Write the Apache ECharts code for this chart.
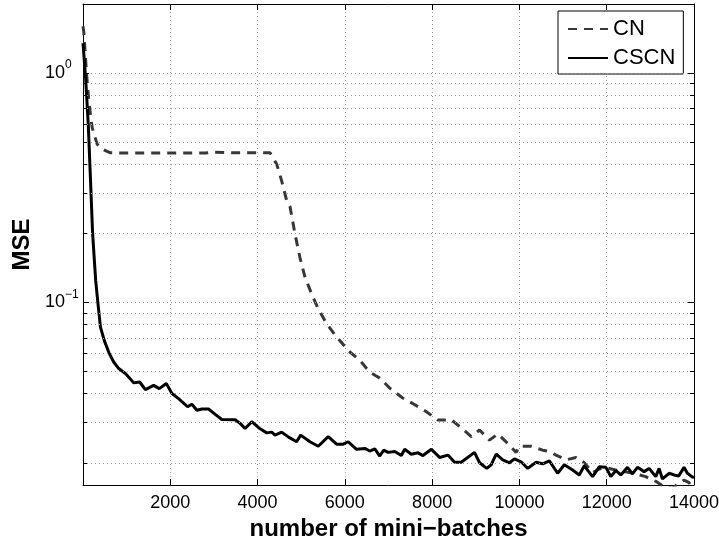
<!DOCTYPE html>
<html><head><meta charset="utf-8">
<script src="https://cdn.jsdelivr.net/npm/echarts@6/dist/echarts.min.js"></script>
<style>html,body{margin:0;padding:0;background:#fff}#c{width:719px;height:537px}</style>
</head><body><div id="c"></div>
<script>
// ---- data ----
const cnX = [0,20,80,133,210,324,438,629,1000,2000,2800,2950,3500,4286,4438,4552,4667,4743,4857,4971,5086,5238,5390,5581,5810,6114,6343,6500,6571,6700,6800,7029,7326,7562,7867,8133,8438,8705,8895,9086,9314,9505,9733,9924,10000,10267,10533,10686,10838,11067,11295,11486,11676,11829,12000,12200,12400,12600,12895,13124,13300,13500,13771,13886,14000];
const cnY = [1.6,1.5,1.0,0.755,0.578,0.49,0.466,0.449,0.448,0.448,0.448,0.452,0.449,0.449,0.401,0.339,0.278,0.262,0.199,0.157,0.129,0.109,0.0938,0.0808,0.0707,0.0608,0.056,0.0515,0.0498,0.048,0.0468,0.0423,0.0383,0.0362,0.0334,0.0307,0.0308,0.028,0.026,0.0278,0.0251,0.0267,0.0243,0.0222,0.0236,0.0236,0.0227,0.0224,0.0216,0.0206,0.0211,0.02,0.0181,0.0188,0.019,0.0186,0.0183,0.018,0.0174,0.0166,0.0158,0.0155,0.0168,0.0164,0.0152];
const cscnX = [0,60,120,170,220,290,340,400,490,600,704,819,971,1060,1162,1299,1429,1619,1749,1909,2038,2190,2396,2495,2610,2724,2876,3030,3181,3486,3600,3714,3867,4050,4210,4324,4400,4552,4720,4895,4987,5200,5390,5619,5810,5962,6076,6267,6457,6571,6686,6800,6891,6990,7143,7295,7371,7524,7676,7790,7981,8171,8362,8514,8667,8971,9086,9252,9352,9467,9619,9771,9886,10038,10190,10381,10533,10686,10876,11029,11219,11371,11486,11676,11829,11981,12095,12210,12324,12476,12590,12705,12857,12971,13124,13200,13276,13429,13543,13650,13771,13848,13950,14000];
const cscnY = [1.35,0.95,0.6,0.35,0.2,0.125,0.1,0.078,0.068,0.06,0.055,0.0515,0.049,0.047,0.0446,0.045,0.0417,0.0435,0.0421,0.0443,0.0401,0.0381,0.0351,0.036,0.0339,0.0343,0.0343,0.0325,0.0309,0.0308,0.0297,0.0282,0.0302,0.0282,0.027,0.0272,0.0264,0.0272,0.0258,0.0247,0.0264,0.0247,0.0236,0.026,0.0241,0.0241,0.0247,0.0229,0.0231,0.0225,0.023,0.0214,0.0227,0.0222,0.0224,0.0215,0.0229,0.0218,0.0221,0.0215,0.0229,0.0211,0.0216,0.0201,0.0201,0.0222,0.02,0.0189,0.0196,0.0218,0.0206,0.02,0.0208,0.0202,0.0189,0.0201,0.0198,0.0204,0.018,0.0196,0.0186,0.0177,0.0194,0.0174,0.0192,0.0191,0.0174,0.0185,0.0177,0.0191,0.0179,0.0191,0.0183,0.0189,0.0174,0.0189,0.017,0.018,0.0177,0.0175,0.0191,0.018,0.0174,0.0172];
const seriesNames = ['CN','CSCN'];
const xMin = 0, xMax = 14000, xStep = 2000;
const yMin = 0.016, yMax = 2;
const yMajor = [0.1, 1];
const yMinor = [0.02,0.03,0.04,0.05,0.06,0.07,0.08,0.09,0.2,0.3,0.4,0.5,0.6,0.7,0.8,0.9];
const xTitle = 'number of mini\u2212batches';
const yTitle = 'MSE';

// ---- chart ----
const FONT = '"Liberation Sans", Arial, Helvetica, sans-serif';
const chart = echarts.init(document.getElementById('c'), null, {renderer: 'canvas'});
const pair = (xs, ys) => xs.map((x, i) => [x, ys[i]]);
const gridStyle = {type: [1, 3], color: '#9a9a9a', width: 1};
const plotW = 611;
const minorLen = (xMax - xMin) * 4 / plotW;
const majorLen = (xMax - xMin) * 6 / plotW;
const tickSegs = [];
yMinor.forEach(v => {
  tickSegs.push([{coord: [xMin, v]}, {coord: [xMin + minorLen, v]}]);
  tickSegs.push([{coord: [xMax - minorLen, v]}, {coord: [xMax, v]}]);
});
yMajor.forEach(v => {
  tickSegs.push([{coord: [xMin, v]}, {coord: [xMin + majorLen, v]}]);
  tickSegs.push([{coord: [xMax - majorLen, v]}, {coord: [xMax, v]}]);
});

function yLabel(v) {
  const e = Math.round(Math.log10(v));
  if (Math.abs(v - Math.pow(10, e)) / v < 1e-6 && (e === 0 || e === -1)) {
    return '{b|10}{s|' + (e < 0 ? '\u2212' + (-e) : e) + '}';
  }
  return '';
}

const axisCommon = {
  axisLine: {show: true, onZero: false, lineStyle: {color: '#000', width: 1}},
  axisTick: {show: true, inside: true, length: 6, lineStyle: {color: '#000'}},
};

chart.setOption({
  animation: false,
  backgroundColor: '#fff',
  textStyle: {fontFamily: FONT},
  grid: {left: 83, top: 4, width: plotW, height: 481, containLabel: false, outerBoundsMode: 'none'},
  legend: {
    data: seriesNames,
    orient: 'vertical',
    left: 558, top: 11,
    backgroundColor: '#fff',
    borderColor: '#000', borderWidth: 1, borderRadius: 0,
    padding: [7, 8, 5, 9],
    itemGap: 7,
    itemWidth: 40, itemHeight: 14,
    itemStyle: {opacity: 0},
    textStyle: {fontFamily: FONT, fontSize: 22, color: '#000', lineHeight: 22}
  },
  xAxis: [
    Object.assign({}, axisCommon, {
      type: 'value', min: xMin, max: xMax, interval: xStep, position: 'bottom',
      name: xTitle, nameLocation: 'middle', nameGap: 20,
      nameTextStyle: {fontFamily: FONT, fontSize: 24, fontWeight: 'bold', color: '#000'},
      axisLabel: {show: true, margin: 9, fontSize: 18, color: '#000', fontFamily: FONT,
        formatter: v => v === xMin ? '' : String(v)},
      splitLine: {show: true, lineStyle: gridStyle}
    }),
    Object.assign({}, axisCommon, {
      type: 'value', min: xMin, max: xMax, interval: xStep, position: 'top',
      axisLabel: {show: false}, splitLine: {show: false}
    })
  ],
  yAxis: [
    Object.assign({}, axisCommon, {
      type: 'log', logBase: 10, min: yMin, max: yMax, position: 'left',
      name: yTitle, nameLocation: 'middle', nameGap: 46, nameRotate: 90,
      nameTextStyle: {fontFamily: FONT, fontSize: 24, fontWeight: 'bold', color: '#000'},
      axisTick: {show: false},
      axisLabel: {show: true, align: 'left', margin: 38, color: '#000', fontFamily: FONT,
        showMinLabel: false, showMaxLabel: false,
        formatter: yLabel,
        rich: {
          b: {fontSize: 18, fontFamily: FONT, color: '#000'},
          s: {fontSize: 12, fontFamily: FONT, color: '#000', padding: [0, 0, 16, 0]}
        }},
      splitLine: {show: false}
    }),
    Object.assign({}, axisCommon, {
      type: 'log', logBase: 10, min: yMin, max: yMax, position: 'right',
      axisTick: {show: false}, axisLabel: {show: false}, splitLine: {show: false}
    })
  ],
  series: [
    {
      name: '_grid', type: 'line', data: [], z: 1, silent: true,
      markLine: {
        silent: true, symbol: ['none', 'none'], animation: false,
        label: {show: false},
        lineStyle: gridStyle,
        emphasis: {disabled: true},
        data: yMinor.concat(yMajor).map(v => ({yAxis: v}))
      }
    },
    {
      name: '_ticks', type: 'line', data: [], z: 2, silent: true,
      markLine: {
        silent: true, symbol: ['none', 'none'], animation: false,
        label: {show: false},
        lineStyle: {type: 'solid', color: '#000', width: 1},
        emphasis: {disabled: true},
        data: tickSegs
      }
    },
    {
      name: seriesNames[0], type: 'line', data: pair(cnX, cnY), z: 3,
      showSymbol: false, symbol: 'none', smooth: false, clip: true,
      lineStyle: {color: '#383838', width: 3, type: [9, 7]},
      itemStyle: {color: '#383838'}
    },
    {
      name: seriesNames[1], type: 'line', data: pair(cscnX, cscnY), z: 4,
      showSymbol: false, symbol: 'none', smooth: false, clip: true,
      lineStyle: {color: '#000', width: 3, type: 'solid'},
      itemStyle: {color: '#000'}
    }
  ]
});
</script>
</body></html>
